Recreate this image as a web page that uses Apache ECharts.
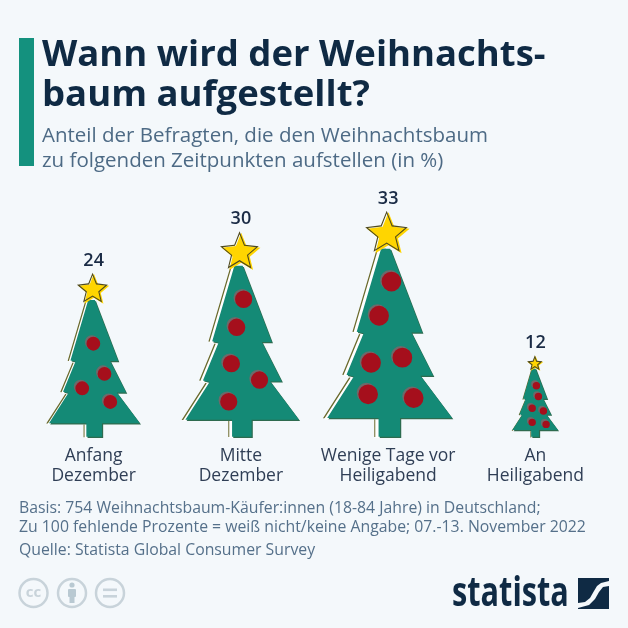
<!DOCTYPE html>
<html><head><meta charset="utf-8">
<style>html,body{margin:0;padding:0;background:#f4f8fb}#c{width:628px;height:628px}</style>
<script src="https://cdn.jsdelivr.net/npm/echarts@6/dist/echarts.min.js"></script>
</head><body><div id="c"></div>
<script>
const categories = ['Anfang\nDezember', 'Mitte\nDezember', 'Wenige Tage vor\nHeiligabend', 'An\nHeiligabend'];
const shares = [24, 30, 33, 12];

// Tree artwork, in a 358 x 619 drawing box that is stretched over each bar.
const BOX_W = 358, BOX_H = 619, WIDTH_PER_POINT = 3.95, HEIGHT_PER_POINT = 6.89;
const TREE = [[163,107],[188,107],[276,335],[246,335],[306,453],[271,453],[358,568],[215,568],[215,619],[156,619],[156,568],[15,568],[88,455],[68,450],[115,337],[96,333]];
const STAR = [[175,0],[191,40],[233,45],[201,72],[211,112],[175,90],[139,112],[149,72],[116,45],[159,40]];
const STAR_C = [175, 62];
const ORNAMENTS = [
  [[175,263,26],[217,376,26],[133,430,26],[239,481,26]],
  [[185,201,26],[164,285,26],[148,394,26],[233,443,26],[140,508,26]],
  [[186,191,27],[152,284,27],[130,412,27],[216,398,27],[122,498,27],[247,508,27]],
  [[181,221,28],[196,303,28],[149,391,28],[234,411,28],[149,496,28],[254,511,28]]
];

const corners = `M0 0L0 0M${BOX_W} ${BOX_H}L${BOX_W} ${BOX_H}`;
const poly = (pts, dx, dy) => 'M' + pts.map(p => (p[0] + dx) + ' ' + (p[1] + dy)).join('L') + 'Z';
const circles = (list, dx, dy) => list.map(([x, y, r]) =>
  `M${x + dx - r} ${y + dy}A${r} ${r} 0 1 1 ${x + dx + r} ${y + dy}A${r} ${r} 0 1 1 ${x + dx - r} ${y + dy}Z`).join('');
const sym = d => 'path://' + corners + d;
// size of one screen pixel in drawing-box units, for a tree of share v
const px = i => BOX_H / (shares[i] * HEIGHT_PER_POINT);
// star outline: the star minus a shrunken, reversed copy of itself
const starRing = i => {
  const s = Math.max(0.5, 1 - 0.9 * px(i) / 19);
  const inner = STAR.map(p => [STAR_C[0] + (p[0] - STAR_C[0]) * s, STAR_C[1] + (p[1] - STAR_C[1]) * s]).reverse();
  return poly(STAR, 0, 0) + poly(inner, 0, 0);
};

const layer = (name, z, symbolFor, color, withLabel) => ({
  name, type: 'pictorialBar', z, barGap: '-100%', barWidth: '100%',
  symbolPosition: 'start', symbolRepeat: false, silent: true,
  data: shares.map((v, i) => ({
    value: v,
    symbol: symbolFor(i),
    symbolSize: [v * WIDTH_PER_POINT, '100%']
  })),
  itemStyle: { color },
  label: withLabel ? {
    show: true, position: 'top', distance: 3,
    fontFamily: 'Open Sans', fontWeight: 600, fontSize: 18, color: '#1a2b45'
  } : { show: false }
});

const GREY = '#c8d3da', NAVY = '#0f2a44', BG = '#f4f8fb';
const SWOOSH = [[578,603],[585,602],[590,598],[594,591],[597,586],[601,583],[609,581],[609,586],[603,587],[599,592],[595,599],[589,605],[578,608]];

const chart = echarts.init(document.getElementById('c'), null, { renderer: 'canvas' });
chart.setOption({
  animation: false,
  backgroundColor: BG,
  title: [
    { text: 'Wann wird der Weihnachts-\nbaum aufgestellt?', left: 37, top: 31,
      textStyle: { fontFamily: 'Open Sans', fontWeight: 700, fontSize: 36.5, lineHeight: 40, color: NAVY } },
    { text: 'Anteil der Befragten, die den Weihnachtsbaum\nzu folgenden Zeitpunkten aufstellen (in %)', left: 37, top: 118,
      textStyle: { fontFamily: 'Open Sans', fontWeight: 400, fontSize: 20.5, lineHeight: 25.5, color: '#4d6a85' } },
    { text: 'Basis: 754 Weihnachtsbaum-Käufer:innen (18-84 Jahre) in Deutschland;\nZu 100 fehlende Prozente = weiß nicht/keine Angabe; 07.-13. November 2022', left: 14, top: 494,
      textStyle: { fontFamily: 'Open Sans', fontWeight: 400, fontSize: 15.8, lineHeight: 19, color: '#55708a' } },
    { text: 'Quelle: Statista Global Consumer Survey', left: 14, top: 536,
      textStyle: { fontFamily: 'Open Sans', fontWeight: 400, fontSize: 15.8, lineHeight: 19, color: '#55708a' } }
  ],
  grid: { left: 20, right: 19, top: 190, bottom: 190 },
  xAxis: {
    type: 'category', data: categories,
    axisLine: { show: false }, axisTick: { show: false },
    axisLabel: { margin: 8, interval: 0, fontFamily: 'Open Sans', fontSize: 17.5, lineHeight: 20, color: '#2f3e55' }
  },
  yAxis: { type: 'value', min: 0, max: 36, show: false },
  series: [
    layer('Umriss', 2, () => sym(poly(TREE, -15, -3)), '#6a6a2c'),
    layer('Umrissfläche', 3, i => sym(poly(TREE, -15 + px(i), -3 + px(i))), '#ffffff'),
    layer('Baumkante', 4, () => sym(poly(TREE, 0, 0)), '#2e6b4f'),
    layer('Baum', 5, i => sym(poly(TREE, -1.2 * px(i), -1.2 * px(i))), '#148a76'),
    layer('Kugelrand', 6, i => sym(circles(ORNAMENTS[i], -0.8 * px(i), -0.8 * px(i))), '#6d6a6a'),
    layer('Kugeln', 7, i => sym(circles(ORNAMENTS[i], 0.8 * px(i), 0.8 * px(i))), '#a50f1c'),
    layer('Stern', 8, () => sym(poly(STAR, 5, 4)), '#ffd500'),
    layer('Sternumriss', 9, i => sym(starRing(i)), '#4f4a1c', true)
  ],
  graphic: [
    { type: 'rect', shape: { x: 19, y: 38, width: 15, height: 128 }, style: { fill: '#14917e' } },
    { type: 'circle', shape: { cx: 33.5, cy: 593, r: 14 }, style: { fill: 'none', stroke: GREY, lineWidth: 2.5 } },
    { type: 'text', x: 33.5, y: 593, style: { text: 'cc', align: 'center', verticalAlign: 'middle', fontFamily: 'Open Sans', fontWeight: 700, fontSize: 15, fill: GREY } },
    { type: 'circle', shape: { cx: 72, cy: 593, r: 14 }, style: { fill: 'none', stroke: GREY, lineWidth: 2.5 } },
    { type: 'circle', shape: { cx: 72, cy: 585, r: 2.6 }, style: { fill: '#b9c9d2' } },
    { type: 'rect', shape: { x: 68, y: 589, width: 8, height: 8, r: 1 }, style: { fill: '#b9c9d2' } },
    { type: 'rect', shape: { x: 69.5, y: 596, width: 5, height: 7 }, style: { fill: '#b9c9d2' } },
    { type: 'circle', shape: { cx: 110, cy: 593, r: 14 }, style: { fill: 'none', stroke: GREY, lineWidth: 2.5 } },
    { type: 'rect', shape: { x: 103, y: 588.5, width: 14, height: 2.6 }, style: { fill: GREY } },
    { type: 'rect', shape: { x: 103, y: 595, width: 14, height: 2.6 }, style: { fill: GREY } },
    { type: 'text', x: 452, y: 594, scaleX: 0.73, style: { text: 'statista', align: 'left', verticalAlign: 'middle', fontFamily: 'Open Sans', fontWeight: 700, fontSize: 42, fill: NAVY } },
    { type: 'rect', shape: { x: 578, y: 578, width: 31, height: 31 }, style: { fill: NAVY } },
    { type: 'polygon', shape: { points: SWOOSH }, style: { fill: BG } }
  ]
});
</script></body></html>
